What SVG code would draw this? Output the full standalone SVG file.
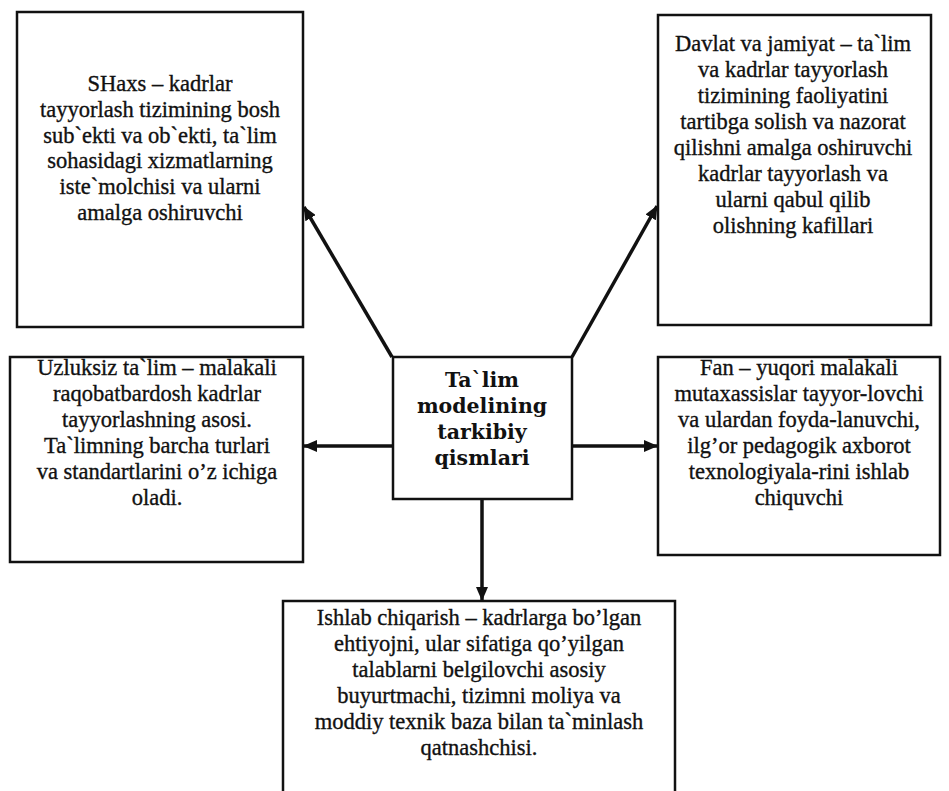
<svg xmlns="http://www.w3.org/2000/svg" width="949" height="791" viewBox="0 0 949 791">
<style>
.box{fill:#fff;stroke:#111;stroke-width:2.5}
.t{font-family:"Liberation Serif","Times New Roman",serif;font-size:22.5px;fill:#111;stroke:#111;stroke-width:0.35;text-anchor:middle}
.b{font-family:"DejaVu Serif","Liberation Serif",serif;font-size:20.5px;font-weight:bold;fill:#111;text-anchor:middle}
.c{stroke:#111;stroke-width:3.5;fill:none;marker-end:url(#ah)}
</style>
<defs>
<marker id="ah" markerUnits="userSpaceOnUse" markerWidth="14" markerHeight="12" refX="13" refY="6" orient="auto">
<path d="M0,0 L14,6 L0,12 z" fill="#111"/>
</marker>
</defs>
<rect width="949" height="791" fill="#fff"/>
<g id="connectors">
<line class="c" x1="392" y1="357" x2="304" y2="207"/>
<line class="c" x1="572" y1="357" x2="657" y2="206"/>
<line class="c" x1="392" y1="446" x2="304" y2="446"/>
<line class="c" x1="572" y1="446" x2="657" y2="446"/>
<line class="c" x1="482" y1="499" x2="482" y2="600"/>
</g>
<g id="shaxs">
<rect class="box" x="17" y="12" width="286" height="315"/>
<text class="t" x="160" y="91">SHaxs – kadrlar</text>
<text class="t" x="160" y="117">tayyorlash tizimining bosh</text>
<text class="t" x="160" y="143">sub`ekti va ob`ekti, ta`lim</text>
<text class="t" x="160" y="168">sohasidagi xizmatlarning</text>
<text class="t" x="160" y="194">iste`molchisi va ularni</text>
<text class="t" x="160" y="220">amalga oshiruvchi</text>
</g>
<g id="davlat">
<rect class="box" x="658" y="15" width="273" height="310"/>
<text class="t" x="793" y="51">Davlat va jamiyat – ta`lim</text>
<text class="t" x="793" y="77">va kadrlar tayyorlash</text>
<text class="t" x="793" y="103">tizimining faoliyatini</text>
<text class="t" x="793" y="129">tartibga solish va nazorat</text>
<text class="t" x="793" y="155">qilishni amalga oshiruvchi</text>
<text class="t" x="793" y="181">kadrlar tayyorlash va</text>
<text class="t" x="793" y="207">ularni qabul qilib</text>
<text class="t" x="793" y="233">olishning kafillari</text>
</g>
<g id="uzluksiz">
<rect class="box" x="10" y="357" width="293" height="205"/>
<text class="t" x="157" y="375">Uzluksiz ta`lim – malakali</text>
<text class="t" x="157" y="401">raqobatbardosh kadrlar</text>
<text class="t" x="157" y="427">tayyorlashning asosi.</text>
<text class="t" x="157" y="453">Ta`limning barcha turlari</text>
<text class="t" x="157" y="479">va standartlarini o’z ichiga</text>
<text class="t" x="157" y="505">oladi.</text>
</g>
<g id="center">
<rect class="box" x="393" y="357" width="179" height="142"/>
<text class="b" x="482" y="387">Ta`lim</text>
<text class="b" x="482" y="413">modelining</text>
<text class="b" x="482" y="439">tarkibiy</text>
<text class="b" x="482" y="465">qismlari</text>
</g>
<g id="fan">
<rect class="box" x="658" y="357" width="282" height="198"/>
<text class="t" x="799" y="375">Fan – yuqori malakali</text>
<text class="t" x="799" y="401">mutaxassislar tayyor-lovchi</text>
<text class="t" x="799" y="427">va ulardan foyda-lanuvchi,</text>
<text class="t" x="799" y="453">ilg’or pedagogik axborot</text>
<text class="t" x="799" y="479">texnologiyala-rini ishlab</text>
<text class="t" x="799" y="505">chiquvchi</text>
</g>
<g id="ishlab">
<rect class="box" x="283" y="601" width="392" height="210"/>
<text class="t" x="479" y="625">Ishlab chiqarish – kadrlarga bo’lgan</text>
<text class="t" x="479" y="651">ehtiyojni, ular sifatiga qo’yilgan</text>
<text class="t" x="479" y="677">talablarni belgilovchi asosiy</text>
<text class="t" x="479" y="703">buyurtmachi, tizimni moliya va</text>
<text class="t" x="479" y="729">moddiy texnik baza bilan ta`minlash</text>
<text class="t" x="479" y="755">qatnashchisi.</text>
</g>
</svg>
